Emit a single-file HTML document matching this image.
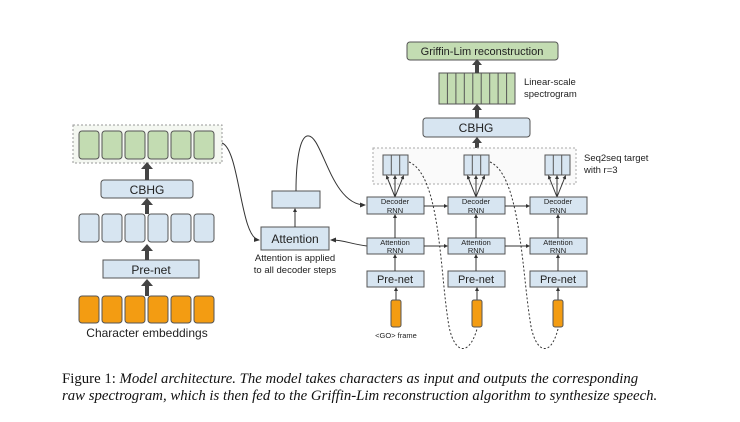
<!DOCTYPE html>
<html><head><meta charset="utf-8"><style>
html,body{margin:0;padding:0;background:#fff;}
svg{display:block;}
text{font-family:"Liberation Sans",sans-serif;fill:#222;}
.cap{font-family:"Liberation Serif",serif;font-size:14.8px;fill:#111;}
</style></head><body>
<svg width="740" height="422" viewBox="0 0 740 422" xmlns="http://www.w3.org/2000/svg">
<defs>
<marker id="a" markerWidth="6" markerHeight="6" refX="5" refY="3" orient="auto"><path d="M0,0.5 L6,3 L0,5.5z" fill="#333"/></marker>
<marker id="t" markerWidth="4" markerHeight="4" refX="2" refY="2" orient="auto"><path d="M0,0 L4,2 L0,4z" fill="#333"/></marker>
</defs>
<rect x="73" y="125" width="149" height="38" fill="#f4f7f1" stroke="#999" stroke-dasharray="2,2"/>
<g fill="#c3dcb2" stroke="#555">
<rect x="79" y="131" width="20" height="28" rx="3"/><rect x="102" y="131" width="20" height="28" rx="3"/><rect x="125" y="131" width="20" height="28" rx="3"/><rect x="148" y="131" width="20" height="28" rx="3"/><rect x="171" y="131" width="20" height="28" rx="3"/><rect x="194" y="131" width="20" height="28" rx="3"/>
</g>
<rect x="101" y="180" width="92" height="18" rx="3" fill="#d7e5f1" stroke="#555"/>
<text x="147" y="194" font-size="12" text-anchor="middle">CBHG</text>
<g fill="#d7e5f1" stroke="#555">
<rect x="79" y="214" width="20" height="28" rx="3"/><rect x="102" y="214" width="20" height="28" rx="3"/><rect x="125" y="214" width="20" height="28" rx="3"/><rect x="148" y="214" width="20" height="28" rx="3"/><rect x="171" y="214" width="20" height="28" rx="3"/><rect x="194" y="214" width="20" height="28" rx="3"/>
</g>
<rect x="103" y="260" width="96" height="18" fill="#d7e5f1" stroke="#555"/>
<text x="151" y="274" font-size="12" text-anchor="middle">Pre-net</text>
<g fill="#f39c12" stroke="#555">
<rect x="79" y="296" width="20" height="27" rx="3"/><rect x="102" y="296" width="20" height="27" rx="3"/><rect x="125" y="296" width="20" height="27" rx="3"/><rect x="148" y="296" width="20" height="27" rx="3"/><rect x="171" y="296" width="20" height="27" rx="3"/><rect x="194" y="296" width="20" height="27" rx="3"/>
</g>
<text x="147" y="337" font-size="12" text-anchor="middle">Character embeddings</text>
<g fill="#444">
<rect x="145" y="167" width="4" height="13"/><path d="M141,169 L147,162 L153,169z"/>
<rect x="145" y="203" width="4" height="11"/><path d="M141,205 L147,198 L153,205z"/>
<rect x="145" y="249" width="4" height="11"/><path d="M141,251 L147,244 L153,251z"/>
<rect x="145" y="284" width="4" height="12"/><path d="M141,286 L147,279 L153,286z"/>
</g>
<rect x="272" y="191" width="48" height="17" fill="#d7e5f1" stroke="#555"/>
<rect x="261" y="227" width="68" height="23" fill="#d7e5f1" stroke="#555"/>
<text x="295" y="243" font-size="12" text-anchor="middle">Attention</text>
<text x="295" y="261" font-size="9.5" text-anchor="middle">Attention is applied</text>
<text x="295" y="273" font-size="9.5" text-anchor="middle">to all decoder steps</text>
<line x1="295" y1="227" x2="295" y2="210" stroke="#333" marker-end="url(#t)"/>
<path d="M222,143 C240,150 240,238 259,240" fill="none" stroke="#333" marker-end="url(#a)"/>
<path d="M296,191 C296,160 300,138 307,136 C322,132 330,205 365,205" fill="none" stroke="#333" marker-end="url(#a)"/>
<path d="M367,246 C350,244 345,240 331,240" fill="none" stroke="#333" marker-end="url(#a)"/>
<rect x="407" y="42" width="151" height="18" rx="3" fill="#c3dcb2" stroke="#555"/>
<text x="482" y="55" font-size="11" text-anchor="middle">Griffin-Lim reconstruction</text>
<rect x="439" y="73" width="76" height="31" fill="#c3dcb2" stroke="#555"/>
<g stroke="#555"><line x1="447.4" y1="73" x2="447.4" y2="104"/><line x1="455.9" y1="73" x2="455.9" y2="104"/><line x1="464.3" y1="73" x2="464.3" y2="104"/><line x1="472.8" y1="73" x2="472.8" y2="104"/><line x1="481.2" y1="73" x2="481.2" y2="104"/><line x1="489.7" y1="73" x2="489.7" y2="104"/><line x1="498.1" y1="73" x2="498.1" y2="104"/><line x1="506.6" y1="73" x2="506.6" y2="104"/></g>
<text x="524" y="85" font-size="9.5">Linear-scale</text>
<text x="524" y="97" font-size="9.5">spectrogram</text>
<rect x="423" y="118" width="107" height="19" rx="3" fill="#d7e5f1" stroke="#555"/>
<text x="476" y="132" font-size="12" text-anchor="middle">CBHG</text>
<g fill="#444">
<rect x="475" y="63" width="4" height="10"/><path d="M472,65 L477,59 L482,65z"/>
<rect x="475" y="108" width="4" height="10"/><path d="M472,110 L477,104 L482,110z"/>
<rect x="475" y="141" width="4" height="8"/><path d="M472,143 L477,137 L482,143z"/>
</g>
<rect x="373" y="148" width="203" height="36" fill="#fafafa" stroke="#aaa" stroke-dasharray="2,2"/>
<text x="584" y="161" font-size="9.5">Seq2seq target</text>
<text x="584" y="173" font-size="9.5">with r=3</text>
<g fill="#d7e5f1" stroke="#555">
<rect x="383" y="155" width="25" height="20"/><rect x="464" y="155" width="25" height="20"/><rect x="545" y="155" width="25" height="20"/>
</g>
<g stroke="#555">
<line x1="391.3" y1="155" x2="391.3" y2="175"/><line x1="399.7" y1="155" x2="399.7" y2="175"/>
<line x1="472.3" y1="155" x2="472.3" y2="175"/><line x1="480.7" y1="155" x2="480.7" y2="175"/>
<line x1="553.3" y1="155" x2="553.3" y2="175"/><line x1="561.7" y1="155" x2="561.7" y2="175"/>
</g>
<g stroke="#333" fill="none">
<line x1="395" y1="197" x2="387" y2="177" marker-end="url(#t)"/><line x1="395" y1="197" x2="395" y2="177" marker-end="url(#t)"/><line x1="395" y1="197" x2="403" y2="177" marker-end="url(#t)"/>
<line x1="476" y1="197" x2="468" y2="177" marker-end="url(#t)"/><line x1="476" y1="197" x2="476" y2="177" marker-end="url(#t)"/><line x1="476" y1="197" x2="484" y2="177" marker-end="url(#t)"/>
<line x1="557" y1="197" x2="549" y2="177" marker-end="url(#t)"/><line x1="557" y1="197" x2="557" y2="177" marker-end="url(#t)"/><line x1="557" y1="197" x2="565" y2="177" marker-end="url(#t)"/>
</g>
<g fill="#d7e5f1" stroke="#555">
<rect x="367" y="197" width="57" height="17"/><rect x="448" y="197" width="57" height="17"/><rect x="530" y="197" width="57" height="17"/>
<rect x="367" y="238" width="57" height="16"/><rect x="448" y="238" width="57" height="16"/><rect x="530" y="238" width="57" height="16"/>
<rect x="367" y="271" width="57" height="16"/><rect x="448" y="271" width="57" height="16"/><rect x="530" y="271" width="57" height="16"/>
</g>
<g font-size="7.5" text-anchor="middle">
<text x="395" y="204">Decoder</text><text x="395" y="213">RNN</text>
<text x="476" y="204">Decoder</text><text x="476" y="213">RNN</text>
<text x="558" y="204">Decoder</text><text x="558" y="213">RNN</text>
<text x="395" y="245">Attention</text><text x="395" y="253">RNN</text>
<text x="476" y="245">Attention</text><text x="476" y="253">RNN</text>
<text x="558" y="245">Attention</text><text x="558" y="253">RNN</text>
</g>
<g font-size="11" text-anchor="middle">
<text x="395" y="283">Pre-net</text><text x="476" y="283">Pre-net</text><text x="558" y="283">Pre-net</text>
</g>
<g stroke="#333" fill="none">
<line x1="424" y1="206" x2="446" y2="206" marker-end="url(#t)"/><line x1="505" y1="206" x2="528" y2="206" marker-end="url(#t)"/>
<line x1="424" y1="246" x2="446" y2="246" marker-end="url(#t)"/><line x1="505" y1="246" x2="528" y2="246" marker-end="url(#t)"/>
<line x1="395" y1="238" x2="395" y2="216" marker-end="url(#t)"/><line x1="476" y1="238" x2="476" y2="216" marker-end="url(#t)"/><line x1="558" y1="238" x2="558" y2="216" marker-end="url(#t)"/>
<line x1="395" y1="271" x2="395" y2="256" marker-end="url(#t)"/><line x1="476" y1="271" x2="476" y2="256" marker-end="url(#t)"/><line x1="558" y1="271" x2="558" y2="256" marker-end="url(#t)"/>
<line x1="396" y1="300" x2="396" y2="289" marker-end="url(#t)"/><line x1="477" y1="300" x2="477" y2="289" marker-end="url(#t)"/><line x1="558" y1="300" x2="558" y2="289" marker-end="url(#t)"/>
</g>
<g fill="#f39c12" stroke="#555">
<rect x="391" y="300" width="10" height="27" rx="2"/><rect x="472" y="300" width="10" height="27" rx="2"/><rect x="553" y="300" width="10" height="27" rx="2"/>
</g>
<text x="396" y="338" font-size="7.5" text-anchor="middle">&lt;GO&gt; frame</text>
<g stroke="#333" fill="none" stroke-dasharray="2,2">
<path d="M409,162 C440,175 440,270 448,320 C452,352 468,360 477,329"/>
<path d="M490,162 C520,175 522,270 530,320 C534,352 550,360 558,329"/>
</g>
<text class="cap" x="62" y="383">Figure 1: <tspan font-style="italic">Model architecture. The model takes characters as input and outputs the corresponding</tspan></text>
<text class="cap" x="62" y="400" font-style="italic">raw spectrogram, which is then fed to the Griffin-Lim reconstruction algorithm to synthesize speech.</text>
</svg>
</body></html>
